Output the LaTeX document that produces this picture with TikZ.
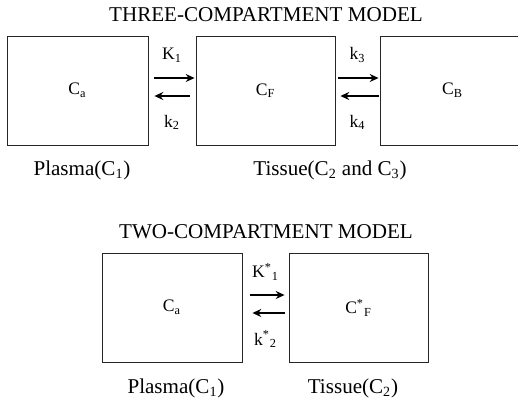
\documentclass[tikz,border=0pt]{standalone}
\usepackage{fontspec}
\setmainfont{Liberation Serif}
\usetikzlibrary{arrows.meta,positioning,calc}
\tikzset{
  comp/.style={draw=black!85, line width=0.5pt, minimum width=2.8cm, minimum height=2.18cm,
    inner sep=0pt, font=\normalsize},
  flow/.style={-{Stealth[length=5pt,width=4.5pt]}, line width=1pt},
  rate/.style={font=\normalsize, inner sep=1pt},
  heading/.style={font=\large, inner sep=0pt},
  region/.style={font=\large, inner sep=0pt}
}

\begin{document}
\begin{tikzpicture}[x=0.02cm, y=-0.02cm]
  \useasboundingbox (0,0) rectangle (518,400);
  % three-compartment model
  \node[heading] (head3) at (266,15) {THREE-COMPARTMENT MODEL};
  \node[comp, minimum width=2.82cm] (ca) at (77.5,90.5) {C\textsubscript{a}};
  \node[comp, minimum width=2.78cm] (cf) at (265.5,90.5) {C\textsubscript{F}};
  \node[comp, minimum width=2.9cm] (cb) at (452.5,90.5) {C\textsubscript{B}};
  \draw[flow, shorten <=0.12cm, shorten >=0.02cm] ([yshift=0.25cm]ca.east) -- ([yshift=0.25cm]cf.west)
    node[rate, midway, above=0.26cm] (k1) {K\textsubscript{1}};
  \draw[flow, shorten <=0.12cm, shorten >=0.12cm] ([yshift=-0.11cm]cf.west) -- ([yshift=-0.11cm]ca.east)
    node[rate, midway, below=0.33cm] (k2) {k\textsubscript{2}};
  \draw[flow, shorten <=0.06cm, shorten >=0.02cm] ([yshift=0.25cm]cf.east) -- ([yshift=0.25cm]cb.west)
    node[rate, midway, above=0.26cm] (k3) {k\textsubscript{3}};
  \draw[flow, shorten <=0.02cm, shorten >=0.1cm] ([yshift=-0.11cm]cb.west) -- ([yshift=-0.11cm]cf.east)
    node[rate, midway, below=0.33cm] (k4) {k\textsubscript{4}};
  \node[region] (plasma3) at (82,170) {Plasma(C\textsubscript{1})};
  \node[region] (tissue3) at (330,170) {Tissue(C\textsubscript{2} and C\textsubscript{3})};
  % two-compartment model
  \node[heading] (head2) at (266,232) {TWO-COMPARTMENT MODEL};
  \node[comp] (ca2) at (172,307.5) {C\textsubscript{a}};
  \node[comp, minimum width=2.78cm] (cf2) at (358.5,307.5) {C\textsuperscript{*}\textsubscript{F}};
  \draw[flow, shorten <=0.16cm, shorten >=0.08cm] ([yshift=0.25cm]ca2.east) -- ([yshift=0.25cm]cf2.west)
    node[rate, midway, above=0.24cm] (k1s) {K\textsuperscript{*}\textsubscript{1}};
  \draw[flow, shorten <=0.08cm, shorten >=0.2cm] ([yshift=-0.11cm]cf2.west) -- ([yshift=-0.11cm]ca2.east)
    node[rate, midway, below=0.3cm] (k2s) {k\textsuperscript{*}\textsubscript{2}};
  \node[region] (plasma2) at (176,388) {Plasma(C\textsubscript{1})};
  \node[region] (tissue2) at (353,388) {Tissue(C\textsubscript{2})};
\end{tikzpicture}
\end{document}
